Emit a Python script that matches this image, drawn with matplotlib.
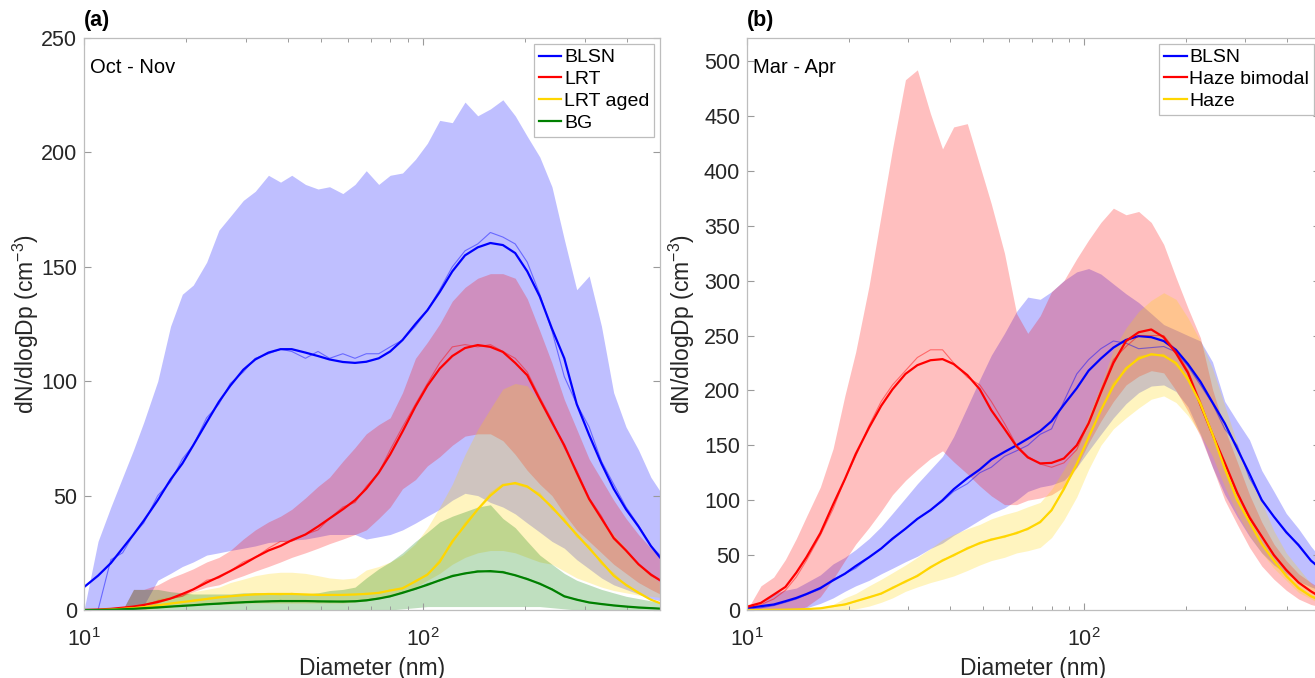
import matplotlib
matplotlib.use("Agg")
import matplotlib.pyplot as plt
from matplotlib.ticker import LogLocator, NullFormatter, FixedLocator

plt.rcParams['font.family'] = ['Liberation Sans', 'DejaVu Sans']
plt.rcParams['mathtext.fontset'] = 'custom'
plt.rcParams['mathtext.rm'] = 'Liberation Sans'
plt.rcParams['mathtext.it'] = 'Liberation Sans:italic'
plt.rcParams['mathtext.bf'] = 'Liberation Sans:bold'

# ---------------- data ----------------
diam = [10, 11, 12, 13, 14, 15, 16.5, 18, 19.5, 21, 23, 25, 27, 29.5, 32, 35, 38, 41, 45, 49,
        53, 58, 63, 68, 74, 80, 87, 95, 103, 112, 122, 133, 145, 158, 172, 187, 203, 221, 240,
        261, 284, 309, 336, 365, 397, 432, 470, 500]

# Panel (a) Oct - Nov
a_blsn_hi = [0, 30, 45, 58, 70, 82, 100, 124, 138, 142, 152, 166, 172, 179, 183, 190, 187, 190, 186, 184,
             185, 182, 186, 192, 186, 190, 191, 197, 204, 214, 213, 222, 216, 219, 223, 216, 207, 198, 185,
             162, 140, 146, 124, 95, 80, 70, 58, 52]
a_blsn_lo = [0, 0, 0, 0, 0, 2, 13, 16, 19, 21, 24, 25, 26, 27, 28, 29.5, 30, 30.5, 31, 32,
             33, 33, 33, 31, 32, 33, 35, 38, 41, 44, 48, 51, 50, 47, 45, 42, 38, 34, 30,
             27, 22, 18, 14, 11, 9, 7, 5, 4]
a_blsn_fit = [10, 15, 20.5, 27, 33, 39, 48, 57, 64, 72, 82, 91, 98, 105, 109.5, 112.5, 114, 114, 112.5, 111,
              109.5, 108.4, 108, 108.5, 110, 113, 118, 125, 131, 139, 148, 155, 158.5, 160.4, 159.5, 156, 148, 137, 123,
              110, 90, 76.5, 64, 53, 44, 36.5, 28, 23]
a_blsn_raw = [0, 0, 22, 25, 33, 38, 50, 56, 66, 72, 84, 90, 99, 104, 110, 112, 114, 113, 110, 113,
              110, 112, 110, 112, 112, 115, 118, 124, 131, 140, 150, 157, 160, 165, 163, 160, 152, 138, 122,
              102, 90, 80, 65, 55, 45, 37, 28, 24]

a_lrt_hi = [0, 0, 0, 0, 9, 9, 11, 14, 16, 18, 21, 23, 26, 31, 35, 38.5, 41, 44, 49, 54,
            58, 65, 71, 77, 81, 84, 95, 110, 117, 125, 135, 141, 145, 147, 147, 145, 136, 122, 108,
            92, 79, 66, 57, 48, 40, 33, 27, 23]
a_lrt_lo = [0, 0, 0, 0, 0, 0, 3, 5, 6, 8, 10, 11, 13, 15, 17, 19, 21, 23, 25, 27,
            29, 31, 33, 35, 40, 45, 53, 57, 63, 67, 72, 76, 77, 77, 74, 68, 61, 55, 50,
            42, 35, 30, 25, 20, 16, 12, 9, 7]
a_lrt_fit = [0, 0.2, 0.5, 1, 1.5, 2.2, 3.5, 5, 7, 9, 12, 14.5, 17, 20, 23, 26, 28, 30.5, 33, 36.5,
             40, 44, 48, 53, 60, 68, 78, 89, 98, 105.5, 111, 114.5, 115.8, 115, 112.8, 108, 102.6, 92, 82,
             72, 60, 48.5, 40, 31.5, 26, 20, 15.5, 13]
a_lrt_raw = [0, 0, 0.3, 0.8, 1.5, 2, 4, 5, 6, 9, 13, 14, 17, 21, 23, 27, 30, 30, 33, 35,
             40, 45, 47, 54, 60, 70, 80, 90, 99, 108, 115, 116, 115, 116, 113, 110, 104, 93, 83,
             71, 61, 49, 41, 31, 26, 20, 15, 13]

a_aged_hi = [0, 0, 0, 0, 0, 0, 5, 6, 7, 8, 9, 10, 12, 13.5, 15, 16, 16.5, 16.5, 16, 15,
             14, 13.5, 14, 17.5, 19, 21, 24, 29, 36, 45, 55, 68, 79, 88, 96.6, 99, 98, 91, 80,
             70, 60, 48, 40, 33, 27, 20, 15, 12]
a_aged_lo = [0, 0, 0, 0, 0, 0, 1, 1.5, 2, 2, 2.5, 2.5, 2.5, 3, 3, 3, 3, 3, 3, 3,
             3, 3, 3.5, 4, 5, 6, 8, 10, 13, 16, 20, 23, 25, 26, 26, 25, 23, 21, 20,
             17, 14, 12, 10, 8.5, 7.5, 6.5, 6, 5.5]
a_aged_fit = [0, 0, 0.2, 0.5, 0.8, 1.2, 2, 2.8, 3.5, 4, 4.8, 5.5, 6, 6.5, 6.8, 7, 7, 7, 6.8, 6.6,
              6.6, 6.6, 6.8, 7, 7.5, 8.5, 9.5, 12.5, 15.5, 21, 30, 37, 44, 50, 54.5, 55.5, 54, 50, 45,
              39, 33, 27, 21, 15, 11, 7.5, 4.5, 3]
a_aged_raw = [0, 0, 0.2, 0.6, 1, 1.5, 2.2, 3, 3.2, 4.5, 5, 5.8, 6.2, 6.3, 7.2, 7, 6.6, 7.3, 6.5, 6.9,
              6.4, 6.8, 6.6, 7.4, 7.2, 8.8, 9.2, 13, 15, 22, 29, 38, 44, 51, 55, 55, 53.5, 51, 44,
              40, 32, 28, 20, 16, 10.5, 8, 4.5, 3]

a_bg_hi = [0, 0, 0, 0, 9, 9, 9, 8, 7.5, 7, 7, 7, 7, 7.5, 7.5, 7.5, 7.5, 7, 7, 7.5,
           8.5, 9, 10, 14, 18, 21, 25, 30, 34, 38.5, 41, 43, 45, 46, 40, 36, 30, 24, 20,
           16, 13, 11, 9, 7.5, 6, 5, 4, 3.5]
a_bg_lo = [0, 0, 0, 0, 0, 0, 0, 0, 0, 0, 0, 0, 0, 0, 0, 0, 0, 0, 0, 0,
           0, 0, 0, 0, 0, 0, 0.5, 1, 1.5, 1.5, 1.5, 1.5, 1.5, 1.5, 1.5, 1.5, 1.5, 1.5, 1,
           0.5, 0, 0, 0, 0, 0, 0, 0, 0]
a_bg_fit = [0, 0, 0.1, 0.3, 0.5, 0.8, 1.1, 1.5, 1.8, 2.1, 2.5, 2.8, 3.1, 3.4, 3.6, 3.8, 3.9, 3.9, 3.9, 3.8,
            3.7, 3.7, 3.8, 4.2, 5, 6, 7.5, 9.3, 11, 13, 14.8, 16, 16.8, 17, 16.5, 15.2, 13.5, 11.5, 9,
            6, 4.5, 3.3, 2.6, 2, 1.5, 1.1, 0.8, 0.6]
a_bg_raw = [0, 0, 0.1, 0.4, 0.6, 0.7, 1.3, 1.4, 2, 2, 2.7, 2.6, 3.3, 3.2, 3.8, 3.6, 4.2, 3.7, 4.1, 3.6,
            3.9, 3.5, 4, 4.4, 5.2, 5.8, 7.8, 9, 11.5, 12.7, 15.2, 15.8, 17.2, 16.6, 16.9, 15, 13.8, 11.2, 9.3,
            5.8, 4.7, 3.2, 2.7, 1.9, 1.6, 1, 0.9, 0.5]

# Panel (b) Mar - Apr
b_blsn_hi = [0, 5, 15, 18, 20, 25, 32, 42, 48, 55, 65, 76, 88, 102, 115, 128, 140, 158, 185, 210,
             232, 252, 272, 285, 283, 290, 300, 308, 311, 306, 297, 288, 280, 270, 260, 255, 250, 245, 226,
             190, 172, 155, 127, 108, 88, 74, 58, 48]
b_blsn_lo = [0, 0, 0, 0, 0, 2, 6, 11, 17, 22, 27, 33, 38, 44, 49, 56, 61, 68, 75, 82,
             88, 93, 100, 108, 112, 114, 118, 130, 145, 160, 175, 188, 198, 204, 205, 199, 185, 160, 130,
             105, 85, 67, 52, 41, 33, 26, 21, 18]
b_blsn_fit = [1.8, 3.5, 5, 8, 11, 14.5, 20, 27, 33, 40, 48, 56, 65, 74, 83, 91, 100, 110, 120, 128,
              137, 144, 150, 156, 163, 172, 187, 202, 218, 229, 239, 246, 249.5, 248.5, 245, 237, 224, 208, 189,
              170, 147, 124, 100, 85, 71, 59, 45, 38]
b_blsn_raw = [1, 2, 4, 7, 10, 14, 19, 28, 33, 38, 48, 56, 64, 74, 83, 91, 99, 108, 115, 125,
              130, 140, 145, 150, 160, 165, 190, 215, 228, 238, 245, 243, 238, 239, 240, 235, 222, 205, 188,
              165, 150, 120, 101, 85, 70, 60, 45, 38]

b_bim_hi = [0, 22, 30, 46, 65, 85, 112, 147, 195, 235, 295, 360, 420, 483, 492, 452, 420, 440, 443, 405,
            370, 325, 270, 252, 268, 290, 300, 320, 337, 353, 366, 360, 363, 353, 333, 303, 275, 248, 201,
            165, 135, 105, 80, 60, 45, 33, 25, 20]
b_bim_lo = [0, 0, 0, 0, 0, 3, 12, 28, 45, 60, 75, 90, 105, 118, 128, 138, 145, 135, 124, 113,
            104, 96, 96, 100, 102, 105, 112, 130, 152, 172, 190, 205, 213, 218, 216, 200, 181, 158, 130,
            100, 78, 57, 40, 28, 18, 10, 5, 3]
b_bim_fit = [3, 6.5, 14, 21, 34, 48, 70, 96, 119, 142, 166, 186, 201, 215, 223, 227.5, 228.5, 224, 214, 201,
             182, 165, 149, 139, 133.5, 134, 138, 150, 170, 198, 225, 245, 253, 255.5, 248.5, 234, 216, 187, 160,
             134, 107, 84, 67, 50, 36.5, 25, 17, 12]
b_bim_raw = [2, 5, 10, 18, 30, 45, 68, 92, 119, 140, 168, 190, 205, 218, 230, 237, 237, 225, 212, 205,
             190, 170, 150, 140, 133, 130, 134, 146, 170, 200, 228, 240, 250, 250, 250, 236, 218, 190, 160,
             133, 106, 86, 67, 50, 36, 25, 17, 12]

b_haze_hi = [0, 0, 0, 0, 0, 0, 1, 5, 11, 15, 22, 28, 34, 41, 48, 56, 64, 69, 74, 78,
             83, 87, 90, 94, 98, 110, 128, 148, 177, 205, 237, 257, 272, 282, 289, 283, 266, 245, 220,
             186, 152, 120, 98, 72, 52, 38, 24, 18]
b_haze_lo = [0, 0, 0, 0, 0, 0, 0, 0, 0, 1, 3.5, 7, 11, 17, 21, 25, 28, 31, 36, 41,
             45, 48, 52, 54, 57, 66, 82, 103, 128, 150, 165, 175, 184, 192, 195, 189, 177, 160, 140,
             112, 88, 68, 52, 38, 27, 16, 10, 6]
b_haze_fit = [0, 0, 0.2, 0.3, 0.5, 0.8, 1.5, 3.5, 5, 8, 11.5, 15, 20, 26, 31, 39, 45, 50, 56, 61,
              64, 67, 70, 74, 80, 91, 110, 133, 157, 182, 204, 220, 229, 233, 231.5, 225, 210, 188, 160,
              129, 100, 80, 60, 45, 31, 20, 12.5, 9]
b_haze_raw = [0, 0, 0.3, 0.4, 0.7, 1, 1.8, 3, 5.5, 7.5, 12, 14.5, 21, 25, 32, 38, 46, 49, 57, 60,
              65, 66, 71, 73, 81, 90, 112, 132, 159, 181, 207, 218, 231, 232, 233, 223, 212, 186, 162,
              127, 101, 79, 61, 44, 32, 19, 13, 9]

BLUE = (0, 0, 1)
RED = (1, 0, 0)
GOLD = (1, 0.84, 0)
GREEN = (0, 0.5, 0)

groups_a = [
    (a_blsn_lo, a_blsn_hi, a_blsn_fit, a_blsn_raw, BLUE, 'BLSN'),
    (a_lrt_lo, a_lrt_hi, a_lrt_fit, a_lrt_raw, RED, 'LRT'),
    (a_aged_lo, a_aged_hi, a_aged_fit, a_aged_raw, GOLD, 'LRT aged'),
    (a_bg_lo, a_bg_hi, a_bg_fit, a_bg_raw, GREEN, 'BG'),
]
groups_b = [
    (b_blsn_lo, b_blsn_hi, b_blsn_fit, b_blsn_raw, BLUE, 'BLSN'),
    (b_bim_lo, b_bim_hi, b_bim_fit, b_bim_raw, RED, 'Haze bimodal'),
    (b_haze_lo, b_haze_hi, b_haze_fit, b_haze_raw, GOLD, 'Haze'),
]

W, H = 1315, 678
fig = plt.figure(figsize=(W / 100, H / 100), dpi=100)
ax_a = fig.add_axes([84 / W, 1 - 610 / H, (660 - 84) / W, (610 - 38) / H])
ax_b = fig.add_axes([747 / W, 1 - 610 / H, (1320 - 747) / W, (610 - 38) / H])

AXC = '#BDBDBD'
TXC = '#262626'


def draw(ax, groups, ymax, yticks, letter, season, ylab_x):
    handles = []
    for lo, hi, fit, raw, col, lab in groups:
        ax.fill_between(diam, lo, hi, color=col, alpha=0.25, linewidth=0)
        ax.plot(diam, raw, color=col, lw=0.8, alpha=0.45)
        h, = ax.plot(diam, fit, color=col, lw=1.6, label=lab)
        handles.append(h)
    ax.set_xscale('log')
    ax.set_xlim(10, 500)
    ax.set_ylim(0, ymax)
    ax.yaxis.set_major_locator(FixedLocator(yticks))
    ax.xaxis.set_major_locator(LogLocator(base=10, numticks=10))
    ax.xaxis.set_minor_locator(LogLocator(base=10, subs=range(2, 10), numticks=20))
    ax.xaxis.set_minor_formatter(NullFormatter())
    for s in ax.spines.values():
        s.set_color(AXC)
        s.set_linewidth(0.9)
    ax.tick_params(which='both', direction='in', top=True, right=True, color='#9A9A9A',
                   labelcolor=TXC, labelsize=15.5)
    ax.tick_params(which='major', length=5, width=0.8)
    ax.tick_params(which='minor', length=3, width=0.7)
    ax.tick_params(axis='x', which='major', pad=13)
    ax.tick_params(axis='y', which='major', pad=5)
    ax.set_xlabel('Diameter (nm)', fontsize=16.5, color=TXC)
    ax.xaxis.set_label_coords(0.5, -0.082)
    ax.set_ylabel('dN/dlogDp (cm$^{-3}$)', fontsize=16.5, color=TXC)
    ax.yaxis.set_label_coords(ylab_x, 0.5)
    ax.text(0.0, 1.012, letter, transform=ax.transAxes, fontsize=15.5, fontweight='bold',
            ha='left', va='bottom', color='k')
    ax.text(0.01, 0.965, season, transform=ax.transAxes, fontsize=14.5,
            ha='left', va='top', color='k')
    leg = ax.legend(handles=handles, loc='upper right', fontsize=14, handlelength=1.15,
                    handletextpad=0.15, borderpad=0.25, labelspacing=0.22, borderaxespad=0.3,
                    fancybox=False, framealpha=1, edgecolor='#BDBDBD')
    leg.get_frame().set_linewidth(0.9)


draw(ax_a, groups_a, 250, [0, 50, 100, 150, 200, 250], '(a)', 'Oct - Nov', -0.074)
draw(ax_b, groups_b, 521, [0, 50, 100, 150, 200, 250, 300, 350, 400, 450, 500], '(b)', 'Mar - Apr', -0.088)

fig.savefig('out.png', dpi=100)
